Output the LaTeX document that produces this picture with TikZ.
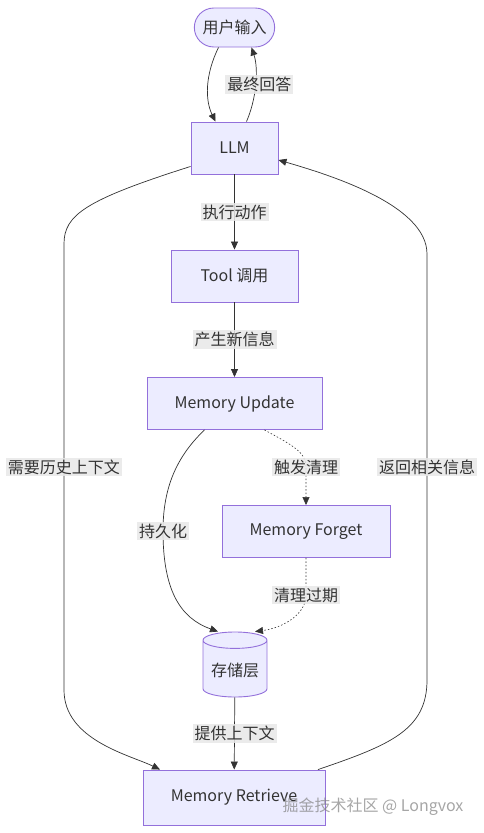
\documentclass[tikz,border=0pt]{standalone}
\usepackage{fontspec}
\setmainfont{Noto Sans CJK SC}
\usetikzlibrary{arrows.meta,shapes.geometric,shapes.misc}
\definecolor{boxfill}{HTML}{ECECFF}
\definecolor{boxline}{HTML}{9370DB}
\definecolor{ink}{HTML}{333333}
\definecolor{lblbg}{HTML}{E8E8E8}

\begin{document}
\begin{tikzpicture}[x=1pt, y=-1pt, font=\fontsize{16}{19}\selectfont, text=ink,
  main/.style = {draw=boxline, fill=boxfill, line width=0.9pt, minimum height=52pt},
  lbl/.style = {fill=lblbg, fill opacity=0.85, text opacity=1, inner sep=2pt},
  edge/.style = {draw=ink, line width=0.7pt, -{Triangle[length=8pt,width=7pt]}},
  dot/.style = {edge, dash pattern=on 1.5pt off 2pt, line width=0.6pt}]
\useasboundingbox (0,0) rectangle (483,833);
\node[main, rounded rectangle, minimum width=87pt, minimum height=39pt] (user) at (234.5,27.5) {用户输入};
\node[main, minimum width=87pt] (llm) at (234.5,148) {LLM};
\node[main, minimum width=127pt] (tool) at (234.5,276) {Tool 调用};
\node[main, minimum width=175pt] (update) at (234.5,403.5) {Memory Update};
\node[main, minimum width=168pt] (forget) at (306,531.5) {Memory Forget};
\node[main, cylinder, shape border rotate=90, aspect=0.3, minimum width=64pt, minimum height=65pt, anchor=shape center] (store) at (235,664.5) {存储层};
\node[main, minimum width=182pt, minimum height=55pt] (retrieve) at (234,797.5) {Memory Retrieve};
\draw[edge] ([xshift=-16pt]user.south) .. controls (205,75) and (205,100) .. ([xshift=-19pt]llm.north);
\draw[edge] ([xshift=12pt]llm.north) .. controls (256,100) and (259,70) .. ([xshift=17pt]user.south)
  node[lbl, pos=0.5, xshift=4pt] {最终回答};
\draw[edge] (llm) -- node[lbl] {执行动作} (tool);
\draw[edge] (tool) -- node[lbl] {产生新信息} (update);
\draw[dot] ([xshift=30pt]update.south) .. controls (292,445) and (306,452) .. (306,467)
  node[lbl] {触发清理} -- (forget.north);
\draw[edge] ([xshift=-30pt]update.south) .. controls (175,458) and (163,490) .. (163,531)
  node[lbl] {持久化} .. controls (163,590) and (180,618) .. ([xshift=-17pt]store.top);
\draw[dot] (forget.south) -- (306,595) node[lbl] {清理过期}
  .. controls (306,615) and (282,628) .. ([xshift=20pt]store.top);
\draw[edge] (store) -- node[lbl] {提供上下文} (retrieve);
\draw[edge] (llm.south west) ++(0,-8) .. controls (85,200) and (64,215) .. (64,244)
  -- node[lbl] {需要历史上下文} (64,690) .. controls (64,740) and (130,755) .. ([xshift=-74pt]retrieve.north);
\draw[edge] ([xshift=84pt]retrieve.north) .. controls (390,745) and (427,730) .. (427,680)
  -- node[lbl] {返回相关信息} (427,254) .. controls (427,205) and (330,175) .. ([yshift=-12pt]llm.east);
\node[text=gray, opacity=0.7] (mark) at (373,807) {掘金技术社区 @ Longvox};
\end{tikzpicture}
\end{document}
